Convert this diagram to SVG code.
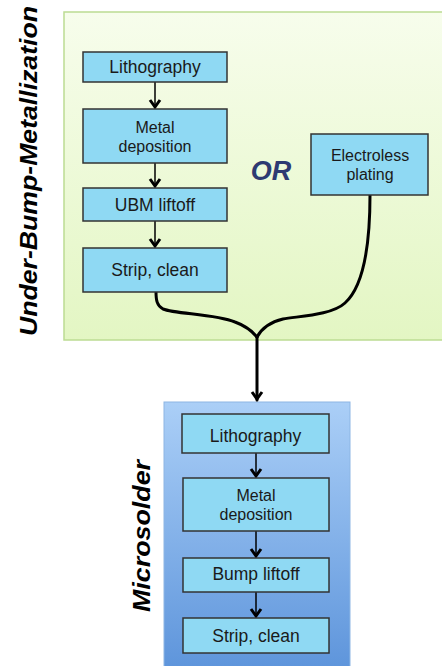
<svg xmlns="http://www.w3.org/2000/svg" width="442" height="666" viewBox="0 0 442 666">
<defs>
<linearGradient id="gGreen" x1="0" y1="0" x2="0" y2="1">
<stop offset="0" stop-color="#f7fdec"/>
<stop offset="1" stop-color="#e3f6c3"/>
</linearGradient>
<linearGradient id="gBlue" x1="0" y1="0" x2="0" y2="1">
<stop offset="0" stop-color="#abcff7"/>
<stop offset="1" stop-color="#5a92da"/>
</linearGradient>
<marker id="chev" markerUnits="userSpaceOnUse" viewBox="-7 -11 14 13" refX="0" refY="0" markerWidth="14" markerHeight="13" orient="auto-start-reverse" overflow="visible">
<path d="M-5,-8 L0,-1 L5,-8" fill="none" stroke="#000" stroke-width="3" stroke-linejoin="miter" transform="rotate(-90)"/>
</marker>
<style>
.box{fill:#8fd9f3;stroke:#333;stroke-width:1.5}
.t{font-family:"Liberation Sans",Arial,sans-serif;font-size:17.5px;fill:#1a1a1a;text-anchor:middle}
.t2{font-family:"Liberation Sans",Arial,sans-serif;font-size:16px;fill:#1a1a1a;text-anchor:middle}
.lab{font-family:"Liberation Sans",Arial,sans-serif;font-weight:bold;font-style:italic;font-size:23px;fill:#000;text-anchor:middle}
.thin{fill:none;stroke:#000;stroke-width:1.5}
.thick{fill:none;stroke:#000;stroke-width:3;stroke-linecap:round}
</style>
</defs>
<g id="panel-ubm">
<rect x="64" y="12" width="390" height="328" fill="url(#gGreen)" stroke="#bcdc93" stroke-width="1.5"/>
</g>
<g id="panel-micro">
<rect x="164" y="402" width="186" height="280" fill="url(#gBlue)" stroke="#8db6e4" stroke-width="1"/>
</g>
<text class="lab" transform="translate(37,171) rotate(-90)" textLength="330" lengthAdjust="spacingAndGlyphs">Under-Bump-Metallization</text>
<text class="lab" transform="translate(150,536) rotate(-90)" textLength="152" lengthAdjust="spacingAndGlyphs">Microsolder</text>
<text id="or" x="271" y="180" font-family="Liberation Sans,Arial,sans-serif" font-weight="bold" font-style="italic" font-size="27" fill="#2d3a72" text-anchor="middle">OR</text>
<g id="connectors">
<line class="thin" x1="155" y1="82" x2="155" y2="108" marker-end="url(#chev)"/>
<line class="thin" x1="155" y1="163" x2="155" y2="187" marker-end="url(#chev)"/>
<line class="thin" x1="155" y1="221" x2="155" y2="247" marker-end="url(#chev)"/>
<path class="thick" d="M156,292 C156,300 157,306 163,309 C175,314 215,314 235,322 C246,326 252,331 257,337"/>
<path class="thick" d="M370,195 C370,240 365,285 345,303 C332,315 300,316 283,319 C270,322 262,328 257,337"/>
<line class="thick" x1="257" y1="337" x2="257" y2="400" marker-end="url(#chev)"/>
<line class="thin" x1="256" y1="453" x2="256" y2="477" marker-end="url(#chev)"/>
<line class="thin" x1="256" y1="531" x2="256" y2="557" marker-end="url(#chev)"/>
<line class="thin" x1="256" y1="592" x2="256" y2="617" marker-end="url(#chev)"/>
</g>
<g id="ubm-litho"><rect class="box" x="83" y="52" width="144" height="30"/><text class="t" x="155" y="73">Lithography</text></g>
<g id="ubm-metal"><rect class="box" x="83" y="109" width="144" height="54"/><text class="t2" x="155" y="132.5">Metal</text><text class="t2" x="155" y="151.5">deposition</text></g>
<g id="ubm-liftoff"><rect class="box" x="83" y="188" width="144" height="33"/><text class="t" x="155" y="210.5">UBM liftoff</text></g>
<g id="ubm-strip"><rect class="box" x="83" y="248" width="144" height="44"/><text class="t" x="155" y="276">Strip, clean</text></g>
<g id="electroless"><rect class="box" x="311" y="134" width="117" height="61"/><text class="t2" x="370" y="161">Electroless</text><text class="t2" x="370" y="180">plating</text></g>
<g id="ms-litho"><rect class="box" x="182" y="414" width="147" height="39"/><text class="t" x="255.5" y="441.5">Lithography</text></g>
<g id="ms-metal"><rect class="box" x="183" y="478" width="146" height="53"/><text class="t2" x="256" y="500.5">Metal</text><text class="t2" x="256" y="519.5">deposition</text></g>
<g id="ms-liftoff"><rect class="box" x="183" y="558" width="146" height="34"/><text class="t" x="256" y="580">Bump liftoff</text></g>
<g id="ms-strip"><rect class="box" x="183" y="618" width="146" height="35"/><text class="t" x="256" y="641.5">Strip, clean</text></g>
</svg>
